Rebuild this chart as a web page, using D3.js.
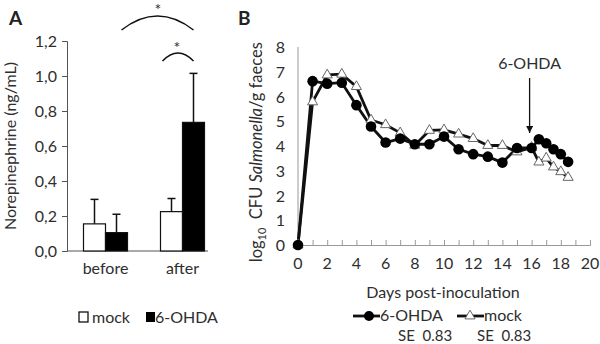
<!DOCTYPE html>
<html>
<head>
<script src="https://d3js.org/d3.v7.min.js"></script>
<style>
    html, body { margin: 0; padding: 0; background: #ffffff; }
    svg { font-family: "Lato", "Open Sans", sans-serif; }
    .lbl { fill: #2e2e2e; }
</style>
</head>
<body>
<svg id="fig" width="600" height="344"></svg>
<script>

// Panel A data
const groups = ["before", "after"];
const treatments = ["mock", "6-OHDA"];
const meanMock = [0.155, 0.225];
const meanOhda = [0.105, 0.735];
const errMock = [0.14, 0.075];
const errOhda = [0.105, 0.28];
const yTicksA = [0, 0.2, 0.4, 0.6, 0.8, 1.0, 1.2];

// Panel B data
const days = [0, 1, 2, 3, 4, 5, 6, 7, 8, 9, 10, 11, 12, 13, 14, 15, 16, 16.5, 17, 17.5, 18, 18.5];
const ohdaCfu = [0, 6.62, 6.52, 6.56, 5.65, 4.79, 4.14, 4.30, 4.07, 4.07, 4.38, 3.87, 3.67, 3.57, 3.33, 3.92, 3.92, 4.27, 4.11, 3.87, 3.67, 3.36];
const mockCfu = [0, 5.78, 6.87, 6.90, 6.40, 5.05, 4.86, 4.53, 4.03, 4.63, 4.65, 4.48, 4.30, 4.02, 4.02, 3.76, 3.94, 3.35, 3.51, 3.15, 2.96, 2.73];
const xTicksB = [0, 2, 4, 6, 8, 10, 12, 14, 16, 18, 20];
const yTicksB = [0, 1, 2, 3, 4, 5, 6, 7, 8];
const injectionDay = 16;

const svg = d3.select("#fig");
const fmtComma = d => d3.format(".1f")(d).replace(".", ",");
const fs = "16px";

// ---------- Panel A ----------
const ya = d3.scaleLinear().domain([0, 1.2]).range([251, 41]);
const xa = d3.scaleBand().domain(groups).range([67, 221]);
const xin = d3.scaleBand().domain(treatments).range([-22, 22]);

svg.append("text").attr("x", 9).attr("y", 25)
    .style("font-size", "19px").style("font-weight", "bold").attr("fill", "#222").text("A");

const axA = svg.append("g").attr("transform", "translate(67,0)")
    .call(d3.axisLeft(ya).tickValues(yTicksA).tickFormat(fmtComma).tickSize(5).tickPadding(5));
axA.select(".domain").attr("stroke", "#555");
axA.selectAll(".tick line").attr("stroke", "#555");
axA.selectAll("text").attr("class", "lbl").style("font-size", fs).style("font-family", "Lato, sans-serif");

svg.append("line").attr("x1", 67).attr("x2", 208).attr("y1", ya(0)).attr("y2", ya(0))
    .attr("stroke", "#555");

svg.append("text").attr("class", "lbl")
    .attr("transform", `translate(16,${ya(0.6)}) rotate(-90)`)
    .attr("text-anchor", "middle").style("font-size", fs)
    .text("Norepinephrine (ng/mL)");

const barsA = [];
groups.forEach((g, i) => {
    barsA.push({ g: g, t: "mock", v: meanMock[i], e: errMock[i] });
    barsA.push({ g: g, t: "6-OHDA", v: meanOhda[i], e: errOhda[i] });
});

const bar = svg.append("g").selectAll("g").data(barsA).join("g")
    .attr("transform", d => `translate(${xa(d.g) + xa.bandwidth() / 2 + xin(d.t)},0)`);
bar.append("line")
    .attr("x1", xin.bandwidth() / 2).attr("x2", xin.bandwidth() / 2)
    .attr("y1", d => ya(d.v)).attr("y2", d => ya(d.v + d.e))
    .attr("stroke", "#111").attr("stroke-width", 1.5);
bar.append("line")
    .attr("x1", xin.bandwidth() / 2 - 4).attr("x2", xin.bandwidth() / 2 + 4)
    .attr("y1", d => ya(d.v + d.e)).attr("y2", d => ya(d.v + d.e))
    .attr("stroke", "#111").attr("stroke-width", 1.5);
bar.append("rect")
    .attr("x", 0).attr("width", xin.bandwidth())
    .attr("y", d => ya(d.v)).attr("height", d => ya(0) - ya(d.v))
    .attr("fill", d => d.t == "mock" ? "#fff" : "#000")
    .attr("stroke", "#111").attr("stroke-width", 1.2);

svg.selectAll("text.cat").data(groups).join("text")
    .attr("class", "cat lbl")
    .attr("x", d => xa(d) + xa.bandwidth() / 2).attr("y", 274)
    .attr("text-anchor", "middle").style("font-size", fs).text(d => d);

// significance arcs
const afterX = xa("after") + xa.bandwidth() / 2;
const beforeX = xa("before") + xa.bandwidth() / 2;
const arcPath = (x1, x2, yEnd, yPeak) =>
    `M${x1},${yEnd} Q${(x1 + x2) / 2},${2 * yPeak - yEnd} ${x2},${yEnd}`;
svg.append("path").attr("d", arcPath(beforeX + 16, afterX + 11, 30, 16))
    .attr("fill", "none").attr("stroke", "#111").attr("stroke-width", 1.5);
svg.append("path").attr("d", arcPath(afterX - 20, afterX + 11, 61, 53))
    .attr("fill", "none").attr("stroke", "#111").attr("stroke-width", 1.5);
svg.append("text").attr("class", "lbl").attr("x", 158).attr("y", 15)
    .attr("text-anchor", "middle").style("font-size", fs).text("*");
svg.append("text").attr("class", "lbl").attr("x", 177).attr("y", 53)
    .attr("text-anchor", "middle").style("font-size", fs).text("*");

// legend A
const legA = svg.append("g").attr("transform", "translate(79,312)");
legA.append("rect").attr("x", 0).attr("y", 0).attr("width", 9).attr("height", 10)
    .attr("fill", "#fff").attr("stroke", "#111").attr("stroke-width", 1.3);
legA.append("text").attr("class", "lbl").attr("x", 13).attr("y", 11)
    .style("font-size", fs).text("mock");
legA.append("rect").attr("x", 67).attr("y", 0).attr("width", 9).attr("height", 10)
    .attr("fill", "#000");
legA.append("text").attr("class", "lbl").attr("x", 76).attr("y", 11)
    .style("font-size", fs).text("6-OHDA");

// ---------- Panel B ----------
const xb = d3.scaleLinear().domain([0, 20]).range([298, 590]);
const yb = d3.scaleLinear().domain([0, 8]).range([245, 47]);

svg.append("text").attr("x", 238).attr("y", 25)
    .style("font-size", "19px").style("font-weight", "bold").attr("fill", "#222").text("B");

svg.append("line").attr("x1", xb(0)).attr("x2", xb(0)).attr("y1", yb(8)).attr("y2", yb(0))
    .attr("stroke", "#999");
const axBx = svg.append("g").attr("transform", `translate(0,${yb(0)})`)
    .call(d3.axisTop(xb).tickValues(d3.range(0, 21)).tickSize(5).tickFormat(""));
axBx.select(".domain").attr("stroke", "#999");
axBx.selectAll(".tick line").attr("stroke", "#999");

svg.selectAll("text.xtb").data(xTicksB).join("text")
    .attr("class", "xtb lbl").attr("x", d => xb(d)).attr("y", 269)
    .attr("text-anchor", "middle").style("font-size", fs).text(d => d);
svg.selectAll("text.ytb").data(yTicksB).join("text")
    .attr("class", "ytb lbl").attr("x", 285).attr("y", d => yb(d) + 6)
    .attr("text-anchor", "end").style("font-size", fs).text(d => d);

svg.append("text").attr("class", "lbl").attr("x", (xb(0) + xb(20)) / 2 - 1).attr("y", 298)
    .attr("text-anchor", "middle").style("font-size", fs).text("Days post-inoculation");

const yTitle = svg.append("text").attr("class", "lbl")
    .attr("transform", `translate(262,${yb(3.75)}) rotate(-90)`)
    .attr("text-anchor", "middle").style("font-size", "16.5px");
yTitle.append("tspan").text("log");
yTitle.append("tspan").attr("dy", 4).style("font-size", "11px").text("10");
yTitle.append("tspan").attr("dy", -4).style("white-space", "pre").text("  CFU ");
yTitle.append("tspan").style("font-style", "italic").text("Salmonella");
yTitle.append("tspan").text("/g faeces");

const ohdaPts = days.map((d, i) => [d, ohdaCfu[i]]);
const mockPts = days.map((d, i) => [d, mockCfu[i]]);
const line = d3.line().x(d => xb(d[0])).y(d => yb(d[1]));

svg.append("path").datum(mockPts).attr("d", line)
    .attr("fill", "none").attr("stroke", "#111").attr("stroke-width", 2.8).attr("stroke-linejoin", "round");
svg.append("path").datum(ohdaPts).attr("d", line)
    .attr("fill", "none").attr("stroke", "#111").attr("stroke-width", 2.8).attr("stroke-linejoin", "round");

const tri = d3.symbol().type(d3.symbolTriangle).size(44);
svg.selectAll("path.tri").data(mockPts).join("path")
    .attr("class", "tri").attr("d", tri)
    .attr("transform", d => `translate(${xb(d[0])},${yb(d[1])})`)
    .attr("fill", "#fff").attr("stroke", "#666").attr("stroke-width", 1);
svg.selectAll("circle.dot").data(ohdaPts).join("circle")
    .attr("class", "dot").attr("r", 5.3)
    .attr("cx", d => xb(d[0])).attr("cy", d => yb(d[1]))
    .attr("fill", "#000");

// 6-OHDA arrow
svg.append("defs").append("marker").attr("id", "ah")
    .attr("viewBox", "0 0 10 10").attr("refX", 10).attr("refY", 5)
    .attr("markerWidth", 7).attr("markerHeight", 7).attr("markerUnits", "userSpaceOnUse")
    .attr("orient", "auto")
    .append("path").attr("d", "M0,0 L10,5 L0,10 z").attr("fill", "#111");
svg.append("line").attr("x1", xb(injectionDay) - 2).attr("x2", xb(injectionDay) - 2)
    .attr("y1", 78).attr("y2", 133)
    .attr("stroke", "#111").attr("stroke-width", 1.3).attr("marker-end", "url(#ah)");
svg.append("text").attr("class", "lbl").attr("x", xb(injectionDay) - 2).attr("y", 69)
    .attr("text-anchor", "middle").style("font-size", fs).text("6-OHDA");

// legend B
const legB = svg.append("g").attr("transform", "translate(353,316)");
legB.append("line").attr("x1", 0).attr("x2", 27).attr("stroke", "#111").attr("stroke-width", 2.8);
legB.append("circle").attr("cx", 16).attr("r", 5).attr("fill", "#000");
legB.append("text").attr("class", "lbl").attr("x", 27).attr("y", 5)
    .style("font-size", fs).text("6-OHDA");
legB.append("text").attr("class", "lbl").attr("x", 45).attr("y", 25)
    .style("font-size", "15px").style("white-space", "pre").text("SE  0.83");
legB.append("line").attr("x1", 104).attr("x2", 131).attr("stroke", "#111").attr("stroke-width", 2.8);
legB.append("path").attr("d", tri).attr("transform", "translate(117,0)")
    .attr("fill", "#fff").attr("stroke", "#666").attr("stroke-width", 1);
legB.append("text").attr("class", "lbl").attr("x", 131).attr("y", 5)
    .style("font-size", fs).text("mock");
legB.append("text").attr("class", "lbl").attr("x", 124).attr("y", 25)
    .style("font-size", "15px").style("white-space", "pre").text("SE  0.83");

</script>
</body>
</html>
